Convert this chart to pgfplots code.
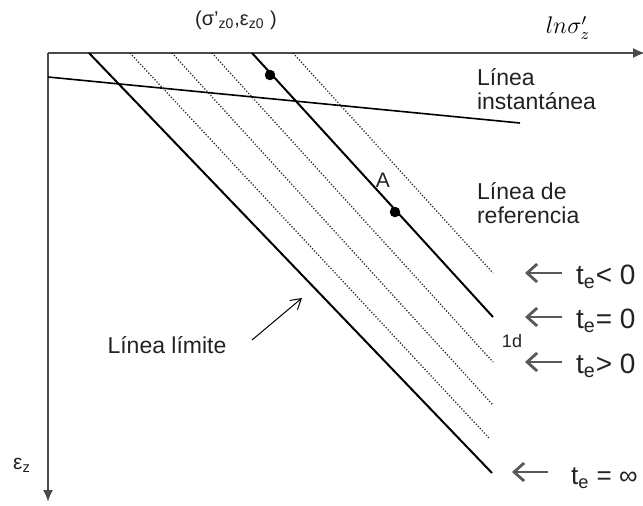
\documentclass[border=0pt]{standalone}
\usepackage{pgfplots}
\pgfplotsset{compat=1.18}
\usepackage{fontspec}
\setmainfont{Liberation Sans}
\usetikzlibrary{arrows.meta}

\definecolor{axisgray}{HTML}{4A4A4A}
\definecolor{txt}{HTML}{222222}

\begin{document}
\begin{tikzpicture}
\begin{axis}[
  name=ax,
  x=0.5pt, y=0.5pt, y dir=reverse,
  xmin=0, xmax=643, ymin=0, ymax=505,
  hide axis, clip=false,
]
% coordinate axes: ln sigma'_z to the right, epsilon_z downwards
\draw[axisgray, line width=1pt, -{Latex[length=6pt,width=5pt]}] (axis cs:48,53) -- (axis cs:645,53);
\draw[axisgray, line width=1pt, -{Latex[length=6pt,width=5pt]}] (axis cs:48,53) -- (axis cs:48,502);

% instantaneous line
\addplot[black, line width=0.8pt] coordinates {(48,77) (520,123)};

% limit line (t_e = infinity)
\addplot[black, line width=1pt] coordinates {(89,53) (492,473)};
% intermediate isochrones
\addplot[black!85, line width=0.65pt, dash pattern=on 0.6pt off 0.9pt] coordinates {(130,53) (489,438)};
\addplot[black!85, line width=0.65pt, dash pattern=on 0.6pt off 0.9pt] coordinates {(172,53) (493,405)};
\addplot[black!85, line width=0.65pt, dash pattern=on 0.6pt off 0.9pt] coordinates {(212,53) (493,362)};
% reference line (t_e = 0, 1d)
\addplot[black, line width=1pt] coordinates {(252,53) (493,317)};
% t_e < 0
\addplot[black!85, line width=0.65pt, dash pattern=on 0.6pt off 0.9pt] coordinates {(293,53) (493,273)};

% points (sigma'_z0, eps_z0) and A
\addplot[only marks, mark=*, mark size=2.4pt, black] coordinates {(270,75) (395,212)};

% labels
\node[txt, font=\fontsize{10}{11}\selectfont] at (axis cs:236,20) {(σ'\textsubscript{z0},ε\textsubscript{z0} )};
\node[black, font=\fontsize{12}{13}\selectfont] at (axis cs:568,28) {$ln\sigma'_z$};
\node[txt, anchor=west, align=left, font=\fontsize{11.5}{12}\selectfont] at (axis cs:470,89) {Línea\\instantánea};
\node[txt, anchor=west, align=left, font=\fontsize{11.5}{12}\selectfont] at (axis cs:470,203) {Línea de\\referencia};
\node[txt, font=\fontsize{10.5}{11}\selectfont] at (axis cs:383,180) {A};
\node[txt, font=\fontsize{9}{10}\selectfont] at (axis cs:512,341) {1d};
\node[txt, font=\fontsize{11.5}{12}\selectfont] at (axis cs:167,345) {Línea límite};
\node[txt, font=\fontsize{10.5}{11}\selectfont] at (axis cs:22,465) {ε\textsubscript{z}};
\draw[black, line width=0.5pt, -{Straight Barb[length=5pt,width=6pt]}] (axis cs:252,340) -- (axis cs:302,298);

% arrows pointing at the isochrones
\foreach \yy/\xa/\xb in {273/562/525, 317/562/525, 362/562/525, 472/548/512}{
  \edef\tmp{\noexpand\draw[gray!70!black, line width=1.4pt, -{Straight Barb[length=5pt,width=9pt]}] (axis cs:\xa,\yy) -- (axis cs:\xb,\yy);}
  \tmp
}
\node[txt, anchor=west, font=\fontsize{14}{15}\selectfont] at (axis cs:569,277) {t\textsubscript{e}< 0};
\node[txt, anchor=west, font=\fontsize{14}{15}\selectfont] at (axis cs:569,321) {t\textsubscript{e}= 0};
\node[txt, anchor=west, font=\fontsize{14}{15}\selectfont] at (axis cs:569,366) {t\textsubscript{e}> 0};
\node[txt, anchor=west, font=\fontsize{13}{14}\selectfont] at (axis cs:564,478) {t\textsubscript{e} = ∞};
\end{axis}
\pgfresetboundingbox
\path[use as bounding box] (ax.south west) rectangle (ax.north east);
\end{tikzpicture}
\end{document}
